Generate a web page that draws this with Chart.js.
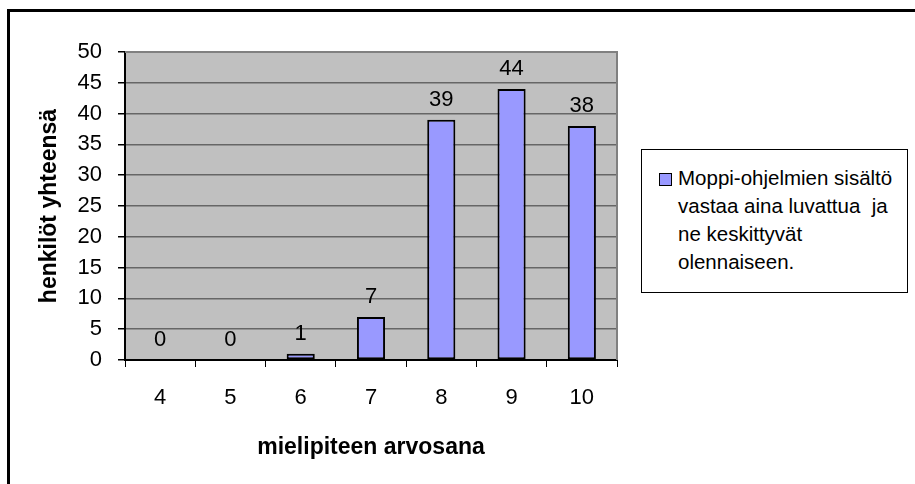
<!DOCTYPE html>
<html>
<head>
<meta charset="utf-8">
<title>mielipiteen arvosana</title>
<script src="https://cdn.jsdelivr.net/npm/chart.js@4.4.1/dist/chart.umd.min.js"></script>
<style>
  html, body { margin: 0; padding: 0; background: #fff; overflow: hidden; }
  #wrap { position: relative; width: 915px; height: 484px; overflow: hidden; }
  #frame {
    position: absolute; left: 7px; top: 9px; width: 930px; height: 500px;
    border-top: 3px solid #000; border-left: 3px solid #000;
  }
  #chart { position: absolute; left: 0; top: 0; }
  #legend {
    position: absolute; left: 641px; top: 149px; width: 229px; height: 128px;
    border: 1px solid #000; background: #fff;
    padding: 14px 0 0 36px;
    font: 20.5px "Liberation Sans", Arial, sans-serif; line-height: 28px; color: #000;
    white-space: pre;
  }
  #legend .mark {
    position: absolute; left: 17px; top: 23px; width: 11px; height: 11px;
    background: #9999ff; border: 1px solid #000;
  }
</style>
</head>
<body>
<div id="wrap">
  <div id="frame"></div>
  <canvas id="chart" width="915" height="484"></canvas>
  <div id="legend"></div>
</div>
<script>
// ─────────────────────────────────────────────
//  Data
// ─────────────────────────────────────────────
const CATEGORIES = ["4", "5", "6", "7", "8", "9", "10"];
const COUNTS     = [0, 0, 1, 7, 39, 44, 38];
const Y_MIN = 0, Y_MAX = 50, Y_STEP = 5;
const X_TITLE = "mielipiteen arvosana";
const Y_TITLE = "henkilöt yhteensä";
const LEGEND_LINES = [
  "Moppi-ohjelmien sisältö",
  "vastaa aina luvattua  ja",
  "ne keskittyvät",
  "olennaiseen.",
];

const FONT = "'Liberation Sans', Arial, sans-serif";
Chart.defaults.font.family = FONT;
Chart.defaults.color = "#000";

// ── gray plot area + top/right frame ──
const plotBg = {
  id: "plotBg",
  beforeDraw(chart) {
    const { ctx, chartArea: a } = chart;
    ctx.save();
    ctx.fillStyle = "#c0c0c0";
    ctx.fillRect(a.left, a.top, a.width, a.height);
    ctx.restore();
  },
  beforeDatasetsDraw(chart) {
    const { ctx, chartArea: a } = chart;
    ctx.save();
    ctx.strokeStyle = "#808080";
    ctx.lineWidth = 2;
    ctx.beginPath();
    ctx.moveTo(a.left, a.top);
    ctx.lineTo(a.right, a.top);
    ctx.lineTo(a.right, a.bottom);
    ctx.stroke();
    ctx.restore();
  },
};

// ── value labels over bars ──
const valueLabels = {
  id: "valueLabels",
  afterDatasetsDraw(chart) {
    const ctx = chart.ctx;
    const meta = chart.getDatasetMeta(0);
    ctx.save();
    ctx.font = "22px " + FONT;
    ctx.fillStyle = "#000";
    ctx.textAlign = "center";
    ctx.textBaseline = "alphabetic";
    meta.data.forEach((bar, i) => {
      ctx.fillText(String(COUNTS[i]), bar.x, bar.y - 14);
    });
    ctx.restore();
  },
};

const chart = new Chart(document.getElementById("chart"), {
  type: "bar",
  data: {
    labels: CATEGORIES,
    datasets: [
      {
        label: LEGEND_LINES.join(" "),
        data: COUNTS,
        backgroundColor: "#9999ff",
        borderColor: "#000",
        borderWidth: 2,
        borderSkipped: false,
        barPercentage: 0.4,
        categoryPercentage: 1,
      },
    ],
  },
  options: {
    responsive: false,
    animation: false,
    layout: { padding: { left: 12, top: 52, right: 298, bottom: 0 } },
    plugins: {
      legend: { display: false },
      tooltip: { enabled: false },
    },
    scales: {
      x: {
        offset: true,
        grid: { drawOnChartArea: false, tickLength: 7, tickColor: "#000", offset: true },
        border: { color: "#000", width: 2 },
        ticks: { font: { size: 22 }, padding: 18, color: "#000" },
        title: {
          display: true,
          text: X_TITLE,
          font: { size: 23, weight: "bold" },
          padding: { top: 0, bottom: 23 },
        },
        afterFit(scale) { scale.height = 124; },
      },
      y: {
        min: Y_MIN,
        max: Y_MAX,
        grid: { color: "#666", lineWidth: 1.5, tickLength: 7, tickColor: "#000" },
        border: { color: "#000", width: 2 },
        ticks: { stepSize: Y_STEP, font: { size: 22 }, padding: 16, color: "#000" },
        title: {
          display: true,
          text: Y_TITLE,
          font: { size: 23, weight: "bold" },
          padding: { top: 24, bottom: 0 },
        },
        afterFit(scale) { scale.width = 113; },
      },
    },
  },
  plugins: [plotBg, valueLabels],
});

// ── HTML legend built from the dataset ──
const legend = document.getElementById("legend");
const mark = document.createElement("div");
mark.className = "mark";
mark.style.background = chart.data.datasets[0].backgroundColor;
legend.appendChild(mark);
legend.appendChild(document.createTextNode(LEGEND_LINES.join("\n")));
</script>
</body>
</html>
